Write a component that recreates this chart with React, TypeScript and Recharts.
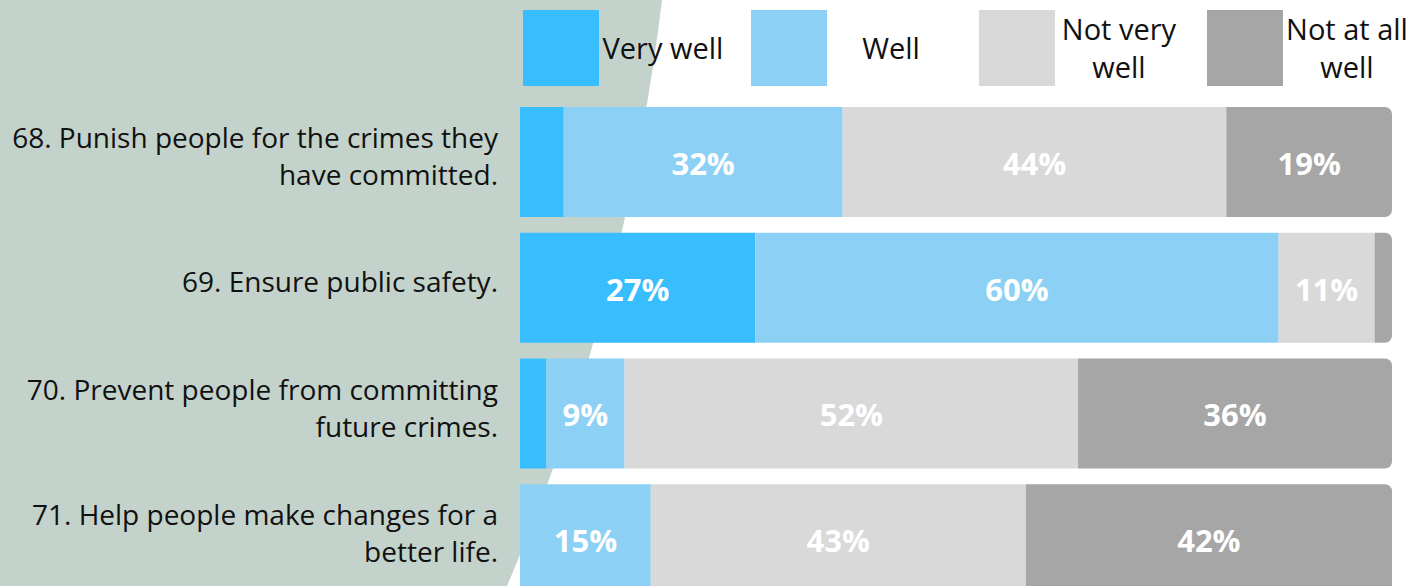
import { BarChart, Bar, XAxis, YAxis, LabelList } from "recharts";

// survey items (line breaks as in the original slide)
const CATEGORIES = [
  "68. Punish people for the crimes they\nhave committed.",
  "69. Ensure public safety.",
  "70. Prevent people from committing\nfuture crimes.",
  "71. Help people make changes for a\nbetter life.",
];

const VERY_WELL = [5, 27, 3, 0];
const WELL = [32, 60, 9, 15];
const NOT_VERY_WELL = [44, 11, 52, 43];
const NOT_AT_ALL_WELL = [19, 2, 36, 42];

const SERIES_KEYS = ["veryWell", "well", "notVeryWell", "notAtAllWell"] as const;
const SERIES_NAMES = ["Very well", "Well", "Not very well", "Not at all well"];
const SERIES_VALUES = [VERY_WELL, WELL, NOT_VERY_WELL, NOT_AT_ALL_WELL];

const COLORS: Record<string, string> = {
  veryWell: "#38BDFE",
  well: "#8CD0F5",
  notVeryWell: "#D9D9D9",
  notAtAllWell: "#A6A6A6",
};

const FONT = "'Open Sans', sans-serif";
const MIN_LABEL = 9;

const data = CATEGORIES.map((name, i) => {
  const row: Record<string, string | number> = { name };
  SERIES_KEYS.forEach((k, s) => {
    row[k] = SERIES_VALUES[s][i];
  });
  return row;
});

function CategoryTick({ x, y, payload }: any) {
  const lines = String(payload.value).split("\n");
  const lh = 37;
  const top = y - 5 - ((lines.length - 1) * lh) / 2;
  return (
    <text textAnchor="end" fontFamily={FONT} fontSize={28} fill="#111">
      {lines.map((l, i) => (
        <tspan key={i} x={x} y={top + i * lh} dy="0.35em">
          {l}
        </tspan>
      ))}
    </text>
  );
}

function PctLabel({ x, y, width, height, value }: any) {
  if (value == null || value < MIN_LABEL) return null;
  return (
    <text
      x={x + width / 2}
      y={y + height / 2 + 2}
      dy="0.35em"
      textAnchor="middle"
      fontFamily={FONT}
      fontWeight={700}
      fontSize={31}
      fill="#fff"
    >
      {`${value}%`}
    </text>
  );
}

function LegendRow() {
  return (
    <div
      style={{
        position: "absolute",
        left: 523,
        top: 10,
        display: "flex",
        fontFamily: FONT,
        fontSize: 29,
        color: "#111",
      }}
    >
      {SERIES_KEYS.map((k, i) => (
        <div key={k} style={{ width: 228, display: "flex", alignItems: "center" }}>
          <div style={{ width: 76, height: 76, background: COLORS[k], flex: "none" }} />
          <div style={{ width: 128, textAlign: "center", lineHeight: "38px" }}>
            {SERIES_NAMES[i]}
          </div>
        </div>
      ))}
    </div>
  );
}

export default function App() {
  return (
    <div
      style={{
        position: "absolute",
        left: 0,
        top: 0,
        width: 1427,
        height: 586,
        overflow: "hidden",
        background: "#fff",
      }}
    >
      {/* background swoosh */}
      <svg width={1427} height={586} style={{ position: "absolute", left: 0, top: 0 }}>
        <path d="M0,0 L662,0 Q624,313 507,586 L0,586 Z" fill="#C3D3CC" />
      </svg>
      <LegendRow />
      <div style={{ position: "absolute", left: 0, top: 0 }}>
        <BarChart
          width={1427}
          height={610}
          data={data}
          layout="vertical"
          margin={{ top: 99, right: 35, bottom: 8, left: 0 }}
        >
          <XAxis type="number" domain={[0, 100]} hide />
          <YAxis
            type="category"
            dataKey="name"
            width={520}
            axisLine={false}
            tickLine={false}
            tickSize={0}
            tickMargin={22}
            tick={<CategoryTick />}
            interval={0}
          />
          {SERIES_KEYS.map((k, i) => (
            <Bar
              key={k}
              dataKey={k}
              name={SERIES_NAMES[i]}
              stackId="a"
              fill={COLORS[k]}
              barSize={110}
              radius={i === SERIES_KEYS.length - 1 ? [0, 7, 7, 0] : 0}
              isAnimationActive={false}
            >
              <LabelList dataKey={k} content={<PctLabel />} />
            </Bar>
          ))}
        </BarChart>
      </div>
    </div>
  );
}
